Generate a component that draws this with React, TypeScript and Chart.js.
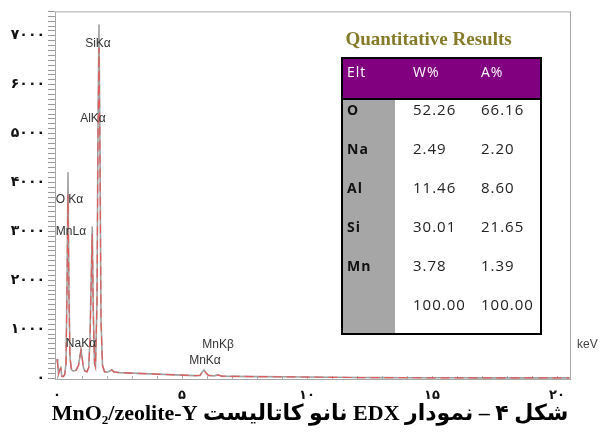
import React, { useEffect, useRef } from 'react';
import { Chart, registerables } from 'chart.js';
Chart.register(...registerables);

// Spectrum (measured) – energy in keV, counts
const energyKeV = [0.00, 0.03, 0.06, 0.10, 0.15, 0.19, 0.25, 0.31, 0.36, 0.40, 0.44, 0.48, 0.52, 0.58, 0.66, 0.76, 0.86, 0.92, 0.96, 1.00, 1.06, 1.12, 1.20, 1.27, 1.32, 1.37, 1.41, 1.45, 1.50, 1.54, 1.60, 1.64, 1.68, 1.72, 1.76, 1.82, 1.90, 2.00, 2.10, 2.19, 2.28, 2.50, 3.00, 3.50, 4.00, 4.50, 5.00, 5.50, 5.72, 5.82, 5.88, 5.94, 6.06, 6.30, 6.44, 6.58, 7.00, 8.00, 9.00, 10.0, 11.0, 12.0, 13.0, 14.0, 15.0, 16.0, 17.0, 18.0, 19.0, 20.0, 20.5];
const measuredCounts = [390, 280, 90, 170, 210, 40, 30, 70, 300, 1900, 4210, 1700, 420, 170, 140, 160, 260, 450, 585, 440, 210, 140, 130, 220, 800, 2100, 3100, 1400, 300, 230, 1600, 5200, 7230, 4600, 1200, 260, 130, 120, 140, 170, 125, 110, 100, 90, 80, 70, 60, 50, 55, 130, 165, 120, 55, 45, 65, 40, 35, 30, 25, 20, 15, 10, 8, 6, 5, 5, 4, 4, 3, 3, 3];
const fitCounts = [380, 270, 85, 160, 200, 40, 30, 70, 290, 1800, 3750, 1600, 410, 170, 140, 160, 255, 440, 570, 430, 205, 140, 130, 215, 780, 2000, 2950, 1350, 300, 230, 1550, 4900, 6750, 4400, 1150, 255, 130, 120, 140, 165, 125, 110, 100, 90, 80, 70, 60, 50, 55, 125, 160, 115, 55, 45, 62, 40, 35, 30, 25, 20, 15, 10, 8, 6, 5, 5, 4, 4, 3, 3, 3];

// Peak annotations
const peakNames = ['SiKα', 'AlKα', 'O Kα', 'MnLα', 'NaKα', 'MnKβ', 'MnKα'];
const peakLabelE = [1.64, 1.44, 0.50, 0.56, 0.96, 6.44, 5.92];
const peakLabelY = [6840, 5310, 3650, 3000, 700, 680, 360];

// Quantitative results table
const tableTitle = 'Quantitative Results';
const tableHeaders = ['Elt', 'W%', 'A%'];
const tableElements = ['O', 'Na', 'Al', 'Si', 'Mn', ''];
const weightPct = ['52.26', '2.49', '11.46', '30.01', '3.78', '100.00'];
const atomicPct = ['66.16', '2.20', '8.60', '21.65', '1.39', '100.00'];

const caption = 'شکل ۴ – نمودار EDX نانو کاتالیست MnO₂/zeolite-Y';
const xUnit = 'keV';

const xMajorStep = 5;
const yMajorStep = 1000;

const faDigits = '۰۱۲۳۴۵۶۷۸۹';
const toFa = (n: number) => String(n).replace(/\d/g, (d) => faDigits[+d]);

const overlay = {
  id: 'overlay',
  beforeDatasetsDraw(chart: any) {
    const { ctx, chartArea: a, scales } = chart;
    const xs = scales.x;
    ctx.save();
    ctx.strokeStyle = '#a8a8a8';
    ctx.lineWidth = 1;
    ctx.strokeRect(a.left + 0.5, a.top + 0.5, a.right - a.left - 1, a.bottom - a.top - 1);
    ctx.strokeStyle = '#b0b0b0';
    xs.ticks.forEach((t: any) => {
      const px = Math.round(xs.getPixelForValue(t.value)) + 0.5;
      ctx.beginPath();
      ctx.moveTo(px, a.bottom);
      ctx.lineTo(px, a.bottom - 4);
      ctx.stroke();
    });
    ctx.restore();
  },
  afterDatasetsDraw(chart: any) {
    const { ctx, chartArea: a, scales } = chart;
    const xs = scales.x, ys = scales.y;
    ctx.save();
    // peak labels
    ctx.font = '12px "Liberation Sans", Arial, sans-serif';
    ctx.fillStyle = '#333';
    ctx.textAlign = 'center';
    ctx.textBaseline = 'middle';
    peakNames.forEach((n, i) => {
      ctx.fillText(n, xs.getPixelForValue(peakLabelE[i]), ys.getPixelForValue(peakLabelY[i]));
    });
    // unit
    ctx.fillStyle = '#444';
    ctx.textAlign = 'left';
    ctx.fillText(xUnit, a.right + 6, a.bottom - 35);

    // table
    const tl = 342, tr = 541, tt = 58, tb = 334, hb = 99, gc = 395;
    ctx.fillStyle = '#fff';
    ctx.fillRect(tl, tt, tr - tl, tb - tt);
    ctx.fillStyle = '#800080';
    ctx.fillRect(tl, tt, tr - tl, hb - tt);
    ctx.fillStyle = '#a6a6a6';
    ctx.fillRect(tl, hb, gc - tl, tb - hb);
    ctx.strokeStyle = '#000';
    ctx.lineWidth = 2;
    ctx.strokeRect(tl, tt, tr - tl, tb - tt);
    ctx.beginPath();
    ctx.moveTo(tl, hb);
    ctx.lineTo(tr, hb);
    ctx.stroke();

    ctx.textAlign = 'center';
    ctx.fillStyle = '#857a2a';
    ctx.font = 'bold 19px "Liberation Serif", serif';
    ctx.fillText(tableTitle, (tl + tr) / 2 - 13, 40);

    const colX = [347, 413, 481];
    ctx.textAlign = 'left';
    ctx.fillStyle = '#fff';
    ctx.font = '14px "Open Sans", sans-serif';
    (ctx as any).letterSpacing = '1px';
    tableHeaders.forEach((h, i) => ctx.fillText(h, colX[i], 73));
    tableElements.forEach((el, r) => {
      const y = 111 + r * 39;
      ctx.fillStyle = '#111';
      ctx.font = 'bold 14px "Open Sans", sans-serif';
      ctx.fillText(el, colX[0], y);
      ctx.font = '15px "Open Sans", sans-serif';
      ctx.fillStyle = '#222';
      ctx.fillText(weightPct[r], colX[1], y);
      ctx.fillText(atomicPct[r], colX[2], y);
    });
    (ctx as any).letterSpacing = '0px';

    // caption
    ctx.direction = 'rtl';
    ctx.textAlign = 'center';
    ctx.fillStyle = '#000';
    ctx.font = 'bold 22px "Liberation Serif", "DejaVu Sans", serif';
    ctx.fillText(caption, 310, 414);
    ctx.restore();
  },
};

export default function App() {
  const ref = useRef<HTMLCanvasElement>(null);
  useEffect(() => {
    const measured = energyKeV.map((e, i) => ({ x: e, y: measuredCounts[i] }));
    const fit = energyKeV.map((e, i) => ({ x: e, y: fitCounts[i] }));
    const chart = new Chart(ref.current as HTMLCanvasElement, {
      type: 'scatter',
      data: {
        datasets: [
          {
            label: 'Fit',
            data: fit,
            showLine: true,
            borderColor: '#e05a5a',
            borderWidth: 1.2,
            borderDash: [9, 5],
            pointRadius: 0,
            tension: 0,
            order: 0,
          },
          {
            label: 'Spectrum',
            data: measured,
            showLine: true,
            borderColor: '#a0a0a0',
            borderWidth: 1.6,
            pointRadius: 0,
            tension: 0,
            order: 1,
          },
        ],
      },
      options: {
        animation: false,
        responsive: false,
        devicePixelRatio: 1,
        layout: { padding: { left: 0, top: 8, right: 29, bottom: 0 } },
        plugins: { legend: { display: false }, tooltip: { enabled: false }, title: { display: false } },
        scales: {
          x: {
            type: 'linear',
            min: -0.08,
            max: 20.56,
            border: { display: false },
            grid: { display: false, drawTicks: false },
            ticks: {
              stepSize: 1,
              autoSkip: false,
              includeBounds: false,
              maxRotation: 0,
              padding: 8,
              color: '#111',
              font: { family: '"DejaVu Sans", sans-serif', size: 13, weight: 'bold' },
              callback: (v: any) => (Number(v) % xMajorStep === 0 ? toFa(Number(v)) : ''),
            },
            afterFit: (s: any) => { s.height = 52; },
          },
          y: {
            type: 'linear',
            min: -40,
            max: 7500,
            border: { display: false },
            grid: { drawOnChartArea: false, drawTicks: true, tickLength: 7, color: '#999' },
            ticks: {
              stepSize: 100,
              autoSkip: false,
              includeBounds: false,
              padding: 3,
              color: '#111',
              font: { family: '"DejaVu Sans", sans-serif', size: 14, weight: 'bold' },
              callback: (v: any) => (Number(v) % yMajorStep === 0 ? toFa(Number(v)) : ''),
            },
            afterFit: (s: any) => { s.width = 55; },
          },
        },
      },
      plugins: [overlay],
    } as any);
    return () => chart.destroy();
  }, []);
  return (
    <div style={{ position: 'fixed', left: 0, top: 0, width: 600, height: 432, background: '#fff' }}>
      <canvas ref={ref} width={600} height={432} style={{ width: 600, height: 432, display: 'block' }} />
    </div>
  );
}
